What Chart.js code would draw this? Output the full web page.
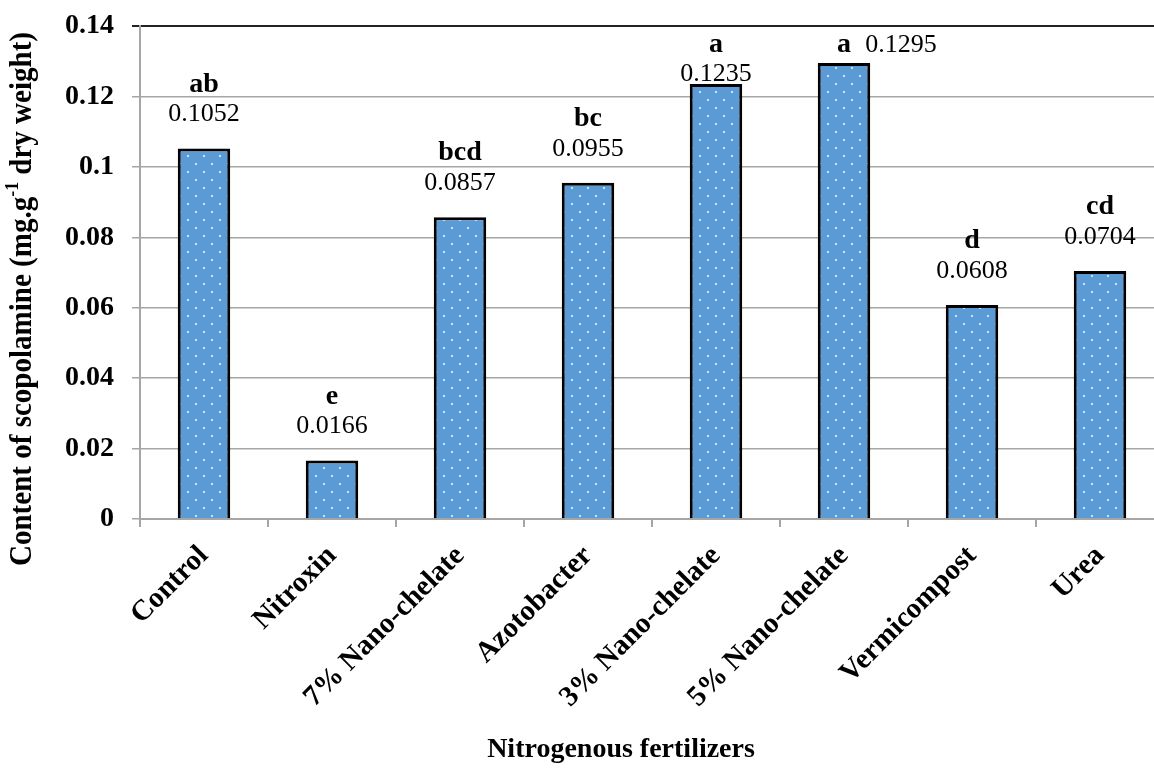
<!DOCTYPE html>
<html>
<head>
<meta charset="utf-8">
<script src="https://cdn.jsdelivr.net/npm/chart.js@4/dist/chart.umd.min.js"></script>
<style>
    html, body { margin: 0; padding: 0; background: #fff; overflow: hidden; }
    #wrap { position: relative; width: 1170px; height: 771px; }
</style>
</head>
<body>
<div id="wrap"><canvas id="chart"></canvas></div>
<script>
const categories = ['Control', 'Nitroxin', '7% Nano-chelate', 'Azotobacter', '3% Nano-chelate', '5% Nano-chelate', 'Vermicompost', 'Urea'];
const scopolamine = [0.1052, 0.0166, 0.0857, 0.0955, 0.1235, 0.1295, 0.0608, 0.0704];
const letters = ['ab', 'e', 'bcd', 'bc', 'a', 'a', 'd', 'cd'];
const yTicks = [0, 0.02, 0.04, 0.06, 0.08, 0.1, 0.12, 0.14];

const serif = "'Liberation Serif', 'Times New Roman', serif";

// blue fill with small white dots
function dotPattern() {
    const c = document.createElement('canvas');
    c.width = 16; c.height = 16;
    const g = c.getContext('2d');
    g.fillStyle = '#5B9BD5';
    g.fillRect(0, 0, 16, 16);
    g.fillStyle = '#EAF2FB';
    [[4, 4], [12, 12]].forEach(([x, y]) => {
        g.beginPath();
        g.arc(x, y, 1.1, 0, Math.PI * 2);
        g.fill();
    });
    return g.createPattern(c, 'repeat');
}

const labelPlugin = {
    id: 'barLabels',
    afterDatasetsDraw(chart) {
        const ctx = chart.ctx;
        const meta = chart.getDatasetMeta(0);
        const top = chart.chartArea.top;
        ctx.save();
        ctx.fillStyle = '#000';
        ctx.textAlign = 'center';
        ctx.textBaseline = 'middle';
        meta.data.forEach((bar, i) => {
            const val = scopolamine[i].toFixed(4);
            const letterY = Math.max(bar.y - 64, top + 19);
            const valY = Math.max(bar.y - 34, letterY + 29);
            if (valY > bar.y - 8) {
                // no room above: letter and value side by side
                ctx.font = 'bold 28px ' + serif;
                ctx.fillText(letters[i], bar.x, letterY);
                ctx.font = '26px ' + serif;
                ctx.fillText(val, bar.x + 57, letterY);
            } else {
                ctx.font = '26px ' + serif;
                ctx.fillText(val, bar.x, valY);
                ctx.font = 'bold 28px ' + serif;
                ctx.fillText(letters[i], bar.x, letterY);
            }
        });
        ctx.restore();
    }
};

const titlePlugin = {
    id: 'axisTitles',
    afterDraw(chart) {
        const ctx = chart.ctx;
        ctx.save();
        ctx.fillStyle = '#000';
        // x title
        ctx.font = 'bold 28px ' + serif;
        ctx.textAlign = 'center';
        ctx.textBaseline = 'middle';
        ctx.fillText('Nitrogenous fertilizers', 621, 750);

        // y title with superscript, a little condensed like the original
        const parts = [
            { t: 'Content of scopolamine (mg.g', f: 'bold 31px ' + serif, dy: 0 },
            { t: '-1', f: 'bold 19px ' + serif, dy: -10 },
            { t: ' dry weight)', f: 'bold 31px ' + serif, dy: 0 }
        ];
        let total = 0;
        parts.forEach(p => { ctx.font = p.f; p.w = ctx.measureText(p.t).width; total += p.w; });
        ctx.translate(23, 299);
        ctx.rotate(-Math.PI / 2);
        ctx.scale(534 / total, 1);
        let x = -total / 2;
        ctx.textAlign = 'left';
        parts.forEach(p => {
            ctx.font = p.f;
            ctx.fillText(p.t, x, p.dy);
            x += p.w;
        });
        ctx.restore();
    }
};

new Chart(document.getElementById('chart'), {
    type: 'bar',
    data: {
        labels: categories,
        datasets: [{
            data: scopolamine,
            backgroundColor: dotPattern(),
            borderColor: '#000',
            borderWidth: 3,
            borderSkipped: 'bottom',
            barPercentage: 0.41,
            categoryPercentage: 1.0
        }]
    },
    options: {
        responsive: true,
        maintainAspectRatio: false,
        animation: false,
        layout: { padding: { top: 26, right: 6, left: 0, bottom: 0 } },
        plugins: {
            legend: { display: false },
            tooltip: { enabled: false }
        },
        scales: {
            x: {
                grid: {
                    drawOnChartArea: false,
                    drawTicks: true,
                    tickLength: 8,
                    color: '#A6A6A6',
                    lineWidth: 2
                },
                border: { color: '#A6A6A6', width: 2 },
                ticks: {
                    color: '#000',
                    font: { family: serif, size: 29, weight: 'bold' },
                    maxRotation: 45,
                    minRotation: 45,
                    padding: 12
                },
                afterFit(scale) {
                    scale.height = 252;
                    scale.paddingLeft = 0;
                    scale.paddingRight = 0;
                }
            },
            y: {
                min: 0,
                max: 0.14,
                afterBuildTicks(scale) {
                    scale.ticks = yTicks.map(v => ({ value: v }));
                },
                grid: {
                    tickLength: 8,
                    color: ctx => ctx.tick && ctx.tick.value === 0.14 ? '#222' : '#A6A6A6',
                    lineWidth: ctx => ctx.tick && ctx.tick.value === 0.14 ? 2 : 1.5
                },
                border: { color: '#A6A6A6', width: 2 },
                ticks: {
                    color: '#000',
                    font: { family: serif, size: 28, weight: 'bold' },
                    padding: 18,
                    callback: v => String(Number(v.toFixed(2)))
                },
                afterFit(scale) {
                    scale.width = 140;
                    scale.paddingTop = 0;
                    scale.paddingBottom = 0;
                }
            }
        }
    },
    plugins: [labelPlugin, titlePlugin]
});
</script>
</body>
</html>
